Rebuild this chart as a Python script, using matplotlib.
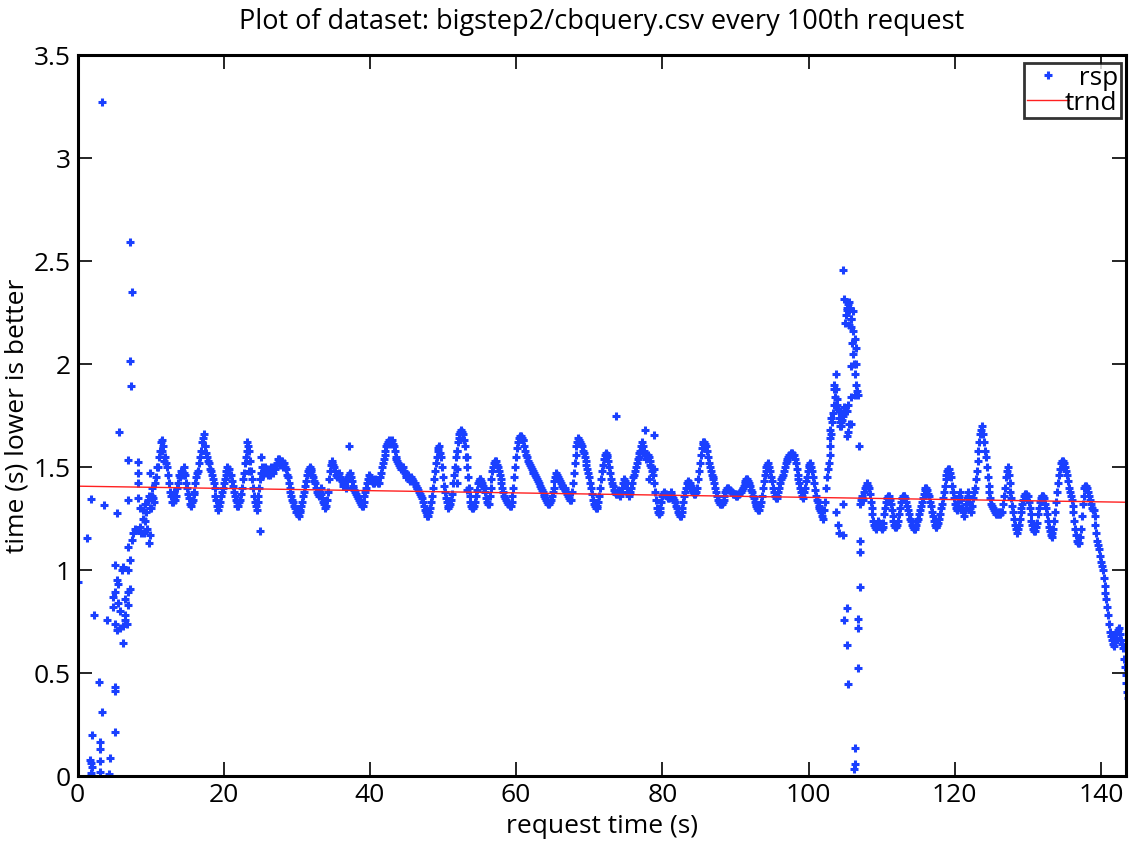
import numpy as np
import matplotlib
matplotlib.use("Agg")
import matplotlib.pyplot as plt

# ---------------- data ----------------
title = "Plot of dataset: bigstep2/cbquery.csv every 100th request"
xlabel = "request time (s)"
ylabel = "time (s) lower is better"

# main band of responses, one value every 0.25 s starting at t = 9 s
band_start = 9.0
band_step = 0.25
rsp_band = [
    1.25, 1.32, 1.20, 1.36,  # 9
    1.30, 1.40, 1.33, 1.45,  # 10
    1.50, 1.58, 1.63, 1.60,  # 11
    1.55, 1.50, 1.42, 1.36,  # 12
    1.33, 1.38, 1.36, 1.42,  # 13
    1.45, 1.48, 1.50, 1.46,  # 14
    1.40, 1.35, 1.31, 1.34,  # 15
    1.38, 1.45, 1.48, 1.55,  # 16
    1.62, 1.66, 1.60, 1.55,  # 17
    1.52, 1.48, 1.44, 1.40,  # 18
    1.34, 1.29, 1.33, 1.38,  # 19
    1.42, 1.46, 1.50, 1.49,  # 20
    1.46, 1.41, 1.36, 1.33,  # 21
    1.31, 1.34, 1.40, 1.47,  # 22
    1.55, 1.62, 1.58, 1.48,  # 23
    1.40, 1.33, 1.29, 1.36,  # 24
    1.44, 1.50, 1.47, 1.49,  # 25
    1.46, 1.48, 1.50, 1.47,  # 26
    1.49, 1.52, 1.54, 1.51,  # 27
    1.53, 1.52, 1.49, 1.45,  # 28
    1.40, 1.36, 1.33, 1.30,  # 29
    1.28, 1.26, 1.29, 1.33,  # 30
    1.38, 1.43, 1.48, 1.50,  # 31
    1.48, 1.45, 1.42, 1.38,  # 32
    1.36, 1.40, 1.35, 1.32,  # 33
    1.31, 1.38, 1.48, 1.53,  # 34
    1.51, 1.48, 1.45, 1.47,  # 35
    1.44, 1.41, 1.43, 1.40,  # 36
    1.45, 1.47, 1.43, 1.40,  # 37
    1.38, 1.36, 1.34, 1.32,  # 38
    1.31, 1.36, 1.40, 1.44,  # 39
    1.45, 1.43, 1.42, 1.44,  # 40
    1.43, 1.42, 1.47, 1.52,  # 41
    1.56, 1.60, 1.62, 1.61,  # 42
    1.63, 1.60, 1.55, 1.53,  # 43
    1.51, 1.49, 1.50, 1.47,  # 44
    1.45, 1.46, 1.43, 1.44,  # 45
    1.42, 1.41, 1.40, 1.38,  # 46
    1.36, 1.33, 1.29, 1.27,  # 47
    1.26, 1.30, 1.36, 1.44,  # 48
    1.52, 1.58, 1.60, 1.55,  # 49
    1.45, 1.38, 1.33, 1.30,  # 50
    1.32, 1.37, 1.46, 1.55,  # 51
    1.62, 1.66, 1.68, 1.66,  # 52
    1.60, 1.50, 1.40, 1.33,  # 53
    1.30, 1.31, 1.36, 1.42,  # 54
    1.44, 1.43, 1.41, 1.38,  # 55
    1.33, 1.32, 1.40, 1.48,  # 56
    1.52, 1.53, 1.50, 1.46,  # 57
    1.42, 1.38, 1.35, 1.33,  # 58
    1.32, 1.31, 1.36, 1.45,  # 59
    1.55, 1.62, 1.65, 1.64,  # 60
    1.63, 1.58, 1.55, 1.52,  # 61
    1.50, 1.48, 1.47, 1.45,  # 62
    1.43, 1.41, 1.39, 1.37,  # 63
    1.35, 1.33, 1.32, 1.34,  # 64
    1.38, 1.43, 1.47, 1.45,  # 65
    1.43, 1.41, 1.40, 1.39,  # 66
    1.37, 1.35, 1.34, 1.42,  # 67
    1.52, 1.60, 1.64, 1.62,  # 68
    1.60, 1.57, 1.53, 1.49,  # 69
    1.45, 1.40, 1.34, 1.31,  # 70
    1.30, 1.33, 1.40, 1.48,  # 71
    1.54, 1.57, 1.55, 1.50,  # 72
    1.44, 1.41, 1.38, 1.37,  # 73
    1.39, 1.36, 1.40, 1.44,  # 74
    1.42, 1.38, 1.36, 1.40,  # 75
    1.45, 1.48, 1.52, 1.55,  # 76
    1.58, 1.62, 1.58, 1.54,  # 77
    1.56, 1.53, 1.50, 1.46,  # 78
    1.38, 1.30, 1.27, 1.30,  # 79
    1.36, 1.38, 1.37, 1.35,  # 80
    1.36, 1.38, 1.35, 1.33,  # 81
    1.30, 1.27, 1.26, 1.30,  # 82
    1.36, 1.40, 1.43, 1.42,  # 83
    1.40, 1.38, 1.37, 1.40,  # 84
    1.48, 1.56, 1.61, 1.62,  # 85
    1.60, 1.55, 1.50, 1.46,  # 86
    1.44, 1.40, 1.36, 1.33,  # 87
    1.32, 1.33, 1.36, 1.39,  # 88
    1.40, 1.39, 1.38, 1.37,  # 89
    1.37, 1.36, 1.37, 1.38,  # 90
    1.40, 1.42, 1.44, 1.43,  # 91
    1.41, 1.38, 1.35, 1.32,  # 92
    1.30, 1.29, 1.33, 1.40,  # 93
    1.46, 1.50, 1.52, 1.48,  # 94
    1.43, 1.38, 1.35, 1.36,  # 95
    1.40, 1.44, 1.46, 1.50,  # 96
    1.53, 1.55, 1.56, 1.57,  # 97
    1.56, 1.52, 1.46, 1.42,  # 98
    1.38, 1.35, 1.40, 1.45,  # 99
    1.50, 1.52, 1.48, 1.42,  # 100
    1.36, 1.33, 1.30, 1.28,  # 101
    1.25, 1.33, 1.45, 1.52,  # 102
    1.60, 1.72, 1.80, 1.88,  # 103
    1.78, 1.72, 1.70, 1.76,  # 104
    2.20, 2.26, 2.30, 2.22,  # 105
    2.10, 2.00, 1.90, 1.85,  # 106
    1.32, 1.36, 1.34, 1.40,  # 107
    1.42, 1.40, 1.33, 1.27,  # 108
    1.22, 1.20, 1.24, 1.22,  # 109
    1.20, 1.23, 1.30, 1.35,  # 110
    1.36, 1.32, 1.26, 1.22,  # 111
    1.21, 1.24, 1.30, 1.35,  # 112
    1.36, 1.35, 1.31, 1.27,  # 113
    1.24, 1.21, 1.20, 1.22,  # 114
    1.25, 1.29, 1.33, 1.37,  # 115
    1.40, 1.39, 1.36, 1.31,  # 116
    1.26, 1.22, 1.21, 1.23,  # 117
    1.27, 1.32, 1.38, 1.44,  # 118
    1.48, 1.49, 1.45, 1.38,  # 119
    1.32, 1.29, 1.33, 1.38,  # 120
    1.30, 1.26, 1.32, 1.38,  # 121
    1.33, 1.28, 1.35, 1.40,  # 122
    1.48, 1.58, 1.66, 1.70,  # 123
    1.62, 1.55, 1.45, 1.38,  # 124
    1.32, 1.30, 1.28, 1.27,  # 125
    1.28, 1.27, 1.28, 1.36,  # 126
    1.45, 1.50, 1.42, 1.35,  # 127
    1.28, 1.22, 1.18, 1.22,  # 128
    1.28, 1.32, 1.36, 1.37,  # 129
    1.36, 1.30, 1.24, 1.20,  # 130
    1.19, 1.23, 1.30, 1.35,  # 131
    1.36, 1.35, 1.30, 1.24,  # 132
    1.19, 1.16, 1.20, 1.28,  # 133
    1.38, 1.46, 1.52, 1.53,  # 134
    1.52, 1.48, 1.43, 1.38,  # 135
    1.34, 1.28, 1.20, 1.14,  # 136
    1.13, 1.20, 1.32, 1.40,  # 137
    1.41, 1.38, 1.34, 1.30,  # 138
    1.29, 1.22, 1.14, 1.10,  # 139
    1.04, 1.00, 0.92, 0.86,  # 140
    0.78, 0.70, 0.66, 0.63,  # 141
    0.67, 0.70, 0.72, 0.66,  # 142
    0.62, 0.53, 0.45, 0.38,  # 143
]

# second set of responses in the same band, read between the first ones
band2_start = 9.125
rsp_band2 = [
    1.18, 1.28, 1.34, 1.30,  # 9
    1.36, 1.35, 1.42, 1.50,  # 10
    1.55, 1.62, 1.58, 1.53,  # 11
    1.52, 1.46, 1.38, 1.33,  # 12
    1.36, 1.34, 1.40, 1.46,  # 13
    1.48, 1.46, 1.47, 1.42,  # 14
    1.37, 1.32, 1.33, 1.37,  # 15
    1.42, 1.47, 1.52, 1.58,  # 16
    1.64, 1.60, 1.57, 1.53,  # 17
    1.49, 1.46, 1.42, 1.36,  # 18
    1.31, 1.31, 1.36, 1.40,  # 19
    1.44, 1.48, 1.47, 1.46,  # 20
    1.43, 1.38, 1.34, 1.31,  # 21
    1.33, 1.37, 1.44, 1.52,  # 22
    1.58, 1.60, 1.53, 1.44,  # 23
    1.36, 1.31, 1.33, 1.40,  # 24
    1.47, 1.46, 1.50, 1.47,  # 25
    1.49, 1.46, 1.48, 1.50,  # 26
    1.51, 1.54, 1.52, 1.53,  # 27
    1.50, 1.50, 1.46, 1.42,  # 28
    1.38, 1.34, 1.31, 1.28,  # 29
    1.27, 1.28, 1.31, 1.36,  # 30
    1.41, 1.46, 1.49, 1.49,  # 31
    1.46, 1.43, 1.40, 1.37,  # 32
    1.38, 1.37, 1.33, 1.30,  # 33
    1.34, 1.44, 1.51, 1.52,  # 34
    1.50, 1.46, 1.46, 1.45,  # 35
    1.43, 1.42, 1.41, 1.43,  # 36
    1.46, 1.45, 1.41, 1.39,  # 37
    1.37, 1.35, 1.33, 1.31,  # 38
    1.33, 1.38, 1.42, 1.46,  # 39
    1.44, 1.42, 1.43, 1.43,  # 40
    1.42, 1.45, 1.50, 1.54,  # 41
    1.58, 1.61, 1.63, 1.62,  # 42
    1.61, 1.58, 1.54, 1.52,  # 43
    1.50, 1.50, 1.48, 1.46,  # 44
    1.46, 1.44, 1.45, 1.43,  # 45
    1.42, 1.40, 1.39, 1.37,  # 46
    1.35, 1.31, 1.28, 1.26,  # 47
    1.28, 1.33, 1.40, 1.48,  # 48
    1.55, 1.59, 1.57, 1.50,  # 49
    1.41, 1.35, 1.31, 1.31,  # 50
    1.34, 1.42, 1.50, 1.58,  # 51
    1.64, 1.67, 1.67, 1.63,  # 52
    1.55, 1.45, 1.36, 1.31,  # 53
    1.30, 1.33, 1.39, 1.43,  # 54
    1.44, 1.42, 1.40, 1.35,  # 55
    1.32, 1.36, 1.44, 1.50,  # 56
    1.53, 1.51, 1.48, 1.44,  # 57
    1.40, 1.36, 1.34, 1.32,  # 58
    1.31, 1.33, 1.40, 1.50,  # 59
    1.59, 1.64, 1.65, 1.63,  # 60
    1.60, 1.56, 1.53, 1.51,  # 61
    1.49, 1.47, 1.46, 1.44,  # 62
    1.42, 1.40, 1.38, 1.36,  # 63
    1.34, 1.32, 1.33, 1.36,  # 64
    1.40, 1.45, 1.46, 1.44,  # 65
    1.42, 1.40, 1.40, 1.38,  # 66
    1.36, 1.34, 1.38, 1.47,  # 67
    1.56, 1.62, 1.63, 1.61,  # 68
    1.58, 1.55, 1.51, 1.47,  # 69
    1.42, 1.37, 1.32, 1.30,  # 70
    1.31, 1.36, 1.44, 1.51,  # 71
    1.56, 1.56, 1.53, 1.47,  # 72
    1.42, 1.39, 1.37, 1.38,  # 73
    1.37, 1.38, 1.42, 1.43,  # 74
    1.40, 1.37, 1.38, 1.42,  # 75
    1.46, 1.50, 1.54, 1.57,  # 76
    1.60, 1.60, 1.56, 1.55,  # 77
    1.55, 1.51, 1.48, 1.42,  # 78
    1.34, 1.28, 1.28, 1.33,  # 79
    1.37, 1.37, 1.36, 1.35,  # 80
    1.37, 1.36, 1.34, 1.31,  # 81
    1.28, 1.26, 1.28, 1.33,  # 82
    1.38, 1.42, 1.42, 1.41,  # 83
    1.39, 1.37, 1.38, 1.44,  # 84
    1.52, 1.59, 1.62, 1.61,  # 85
    1.58, 1.52, 1.48, 1.45,  # 86
    1.42, 1.38, 1.34, 1.32,  # 87
    1.32, 1.34, 1.38, 1.40,  # 88
    1.39, 1.38, 1.37, 1.37,  # 89
    1.36, 1.37, 1.38, 1.39,  # 90
    1.41, 1.43, 1.44, 1.42,  # 91
    1.39, 1.36, 1.33, 1.31,  # 92
    1.29, 1.31, 1.36, 1.43,  # 93
    1.48, 1.51, 1.50, 1.45,  # 94
    1.40, 1.36, 1.35, 1.38,  # 95
    1.42, 1.45, 1.48, 1.52,  # 96
    1.54, 1.56, 1.57, 1.56,  # 97
    1.54, 1.49, 1.44, 1.40,  # 98
    1.36, 1.38, 1.43, 1.48,  # 99
    1.51, 1.50, 1.45, 1.39,  # 100
    1.34, 1.31, 1.29, 1.26,  # 101
    1.29, 1.40, 1.49, 1.56,  # 102
    1.66, 1.76, 1.84, 1.83,  # 103
    1.74, 1.70, 1.73, 1.79,  # 104
    2.24, 2.29, 2.27, 2.18,  # 105
    2.05, 1.95, 1.87, 1.60,  # 106
    1.34, 1.35, 1.38, 1.41,  # 107
    1.41, 1.37, 1.30, 1.24,  # 108
    1.21, 1.22, 1.23, 1.21,  # 109
    1.21, 1.27, 1.33, 1.36,  # 110
    1.34, 1.29, 1.24, 1.21,  # 111
    1.22, 1.27, 1.33, 1.36,  # 112
    1.36, 1.33, 1.29, 1.25,  # 113
    1.22, 1.20, 1.21, 1.24,  # 114
    1.27, 1.31, 1.35, 1.39,  # 115
    1.40, 1.37, 1.33, 1.28,  # 116
    1.24, 1.21, 1.22, 1.25,  # 117
    1.30, 1.35, 1.41, 1.46,  # 118
    1.49, 1.47, 1.41, 1.35,  # 119
    1.30, 1.31, 1.36, 1.34,  # 120
    1.28, 1.29, 1.35, 1.36,  # 121
    1.30, 1.31, 1.38, 1.44,  # 122
    1.53, 1.62, 1.68, 1.66,  # 123
    1.58, 1.50, 1.41, 1.35,  # 124
    1.31, 1.29, 1.27, 1.28,  # 125
    1.27, 1.28, 1.32, 1.40,  # 126
    1.48, 1.46, 1.38, 1.31,  # 127
    1.25, 1.20, 1.20, 1.25,  # 128
    1.30, 1.34, 1.37, 1.36,  # 129
    1.33, 1.27, 1.22, 1.19,  # 130
    1.21, 1.27, 1.33, 1.36,  # 131
    1.36, 1.32, 1.27, 1.21,  # 132
    1.17, 1.18, 1.24, 1.33,  # 133
    1.42, 1.49, 1.53, 1.52,  # 134
    1.50, 1.46, 1.40, 1.36,  # 135
    1.31, 1.24, 1.17, 1.13,  # 136
    1.16, 1.26, 1.36, 1.41,  # 137
    1.40, 1.36, 1.32, 1.29,  # 138
    1.26, 1.18, 1.12, 1.07,  # 139
    1.02, 0.96, 0.89, 0.82,  # 140
    0.74, 0.68, 0.64, 0.65,  # 141
    0.69, 0.71, 0.69, 0.64,  # 142
    0.57, 0.49, 0.41, 0.36,  # 143
]

# scattered responses (start-up, outliers and the spike near 105 s)
rsp_extra_t = [
    0.12, 1.25, 1.80, 3.62, 5.34, 2.25, 3.98, 2.98, 3.39, 1.98,
    3.07, 3.07, 5.12, 5.12, 5.12, 4.43, 1.71, 1.80, 1.98, 3.07,
    1.80, 3.07, 4.30, 3.30, 7.12, 7.39, 7.21, 7.30, 5.66, 6.93,
    8.30, 8.30, 8.30, 9.90, 6.93, 9.75,
    5.12, 5.34, 5.12, 5.60, 6.93, 7.16, 4.89, 5.57, 6.48, 6.93,
    4.89, 5.80, 6.48, 5.12, 6.48, 6.25, 5.34, 5.80, 6.71, 6.16,
    6.02, 6.25, 6.93, 7.16, 6.93, 7.39, 7.62, 8.07, 8.50, 8.75,
    9.20, 9.00, 8.30, 9.90, 8.60, 7.80,
    25.0, 23.5, 25.1, 37.2, 51.9, 51.9, 51.9, 53.3, 53.3, 73.6,
    77.6, 78.8, 78.8, 78.2,
    104.7, 104.9, 105.2, 105.6, 106.1, 105.8, 105.6, 106.1, 106.3, 106.5,
    105.8, 106.5, 106.3, 105.8, 103.7, 103.5, 103.5, 103.9, 103.1, 102.9,
    102.9, 104.2, 104.5, 104.7, 105.2, 105.4, 105.6, 105.4, 105.2, 105.8,
    103.8, 104.0, 104.2, 104.7, 104.7, 105.2, 104.9, 105.25, 105.4, 106.75,
    107.1, 107.1, 107.0, 106.75, 106.8, 106.4, 106.3, 106.2,
]
rsp_extra_y = [
    0.943, 1.153, 1.343, 1.318, 1.278, 0.781, 0.757, 0.458, 0.310, 0.199,
    0.166, 0.129, 0.433, 0.412, 0.212, 0.086, 0.077, 0.061, 0.045, 0.073,
    0.016, 0.018, 0.010, 3.27, 2.59, 2.35, 2.016, 1.895, 1.668, 1.534,
    1.526, 1.469, 1.42, 1.469, 1.34, 1.13,
    1.024, 0.951, 0.895, 0.93, 0.895, 0.91, 0.87, 0.84, 0.86, 0.83,
    0.82, 0.80, 0.78, 0.74, 0.757, 0.73, 0.708, 0.72, 0.74, 0.644,
    1.00, 1.016, 1.00, 1.048, 1.113, 1.146, 1.178, 1.194, 1.21, 1.18,
    1.24, 1.29, 1.35, 1.17, 1.30, 1.20,
    1.19, 1.48, 1.55, 1.60, 1.58, 1.49, 1.42, 1.55, 1.39, 1.747,
    1.68, 1.655, 1.49, 1.44,
    2.456, 2.314, 2.27, 2.26, 2.255, 2.22, 2.19, 2.16, 2.12, 2.08,
    1.99, 2.00, 1.85, 1.84, 1.95, 1.90, 1.88, 1.80, 1.74, 1.68,
    1.64, 1.77, 1.72, 1.75, 1.77, 1.80, 1.71, 1.67, 1.65, 1.71,
    1.28, 1.22, 1.18, 1.17, 1.32, 0.815, 0.756, 0.637, 0.449, 0.526,
    1.139, 1.088, 0.917, 0.764, 0.72, 0.134, 0.057, 0.035,
]

# linear trend (end values)
trnd_t = [0.0, 143.5]
trnd_y = [1.407, 1.329]

xlim = (0, 143.5)
ylim = (0, 3.5)
xticks = [0, 20, 40, 60, 80, 100, 120, 140]
yticks = [0, 0.5, 1, 1.5, 2, 2.5, 3, 3.5]
ytick_labels = ["0", "0.5", "1", "1.5", "2", "2.5", "3", "3.5"]
legend_labels = ["  rsp", "trnd"]

# ---------------- drawing ----------------
plt.rcParams['font.family'] = ['Open Sans', 'DejaVu Sans']

fig = plt.figure(figsize=(11.3, 8.48), dpi=100)
ax = fig.add_axes([0.0686, 0.0849, 0.9283, 0.8502])

band_t = band_start + band_step * np.arange(len(rsp_band))
band2_t = band2_start + band_step * np.arange(len(rsp_band2))
t_all = np.concatenate([np.asarray(rsp_extra_t), band_t, band2_t])
y_all = np.concatenate([np.asarray(rsp_extra_y), np.asarray(rsp_band),
                        np.asarray(rsp_band2)])

blue = '#1a40ff'
ax.plot(t_all, y_all, linestyle='none', marker='+', markersize=6,
        markeredgewidth=2.2, color=blue, label=legend_labels[0])
ax.plot(trnd_t, trnd_y, color='#ff2020', linewidth=1.0,
        label=legend_labels[1])

ax.set_xlim(*xlim)
ax.set_ylim(*ylim)
ax.set_xticks(xticks)
ax.set_yticks(yticks)
ax.set_yticklabels(ytick_labels)
ax.tick_params(direction='in', length=10, width=1.2, top=True, right=True,
               labelsize=19, pad=5)
for s in ax.spines.values():
    s.set_linewidth(2.2)

ax.set_title(title, fontsize=19.5, pad=19)
ax.set_xlabel(xlabel, fontsize=19, labelpad=4)
ax.set_ylabel(ylabel, fontsize=19, labelpad=3)

leg = ax.legend(loc='upper right', bbox_to_anchor=(1 - 5.5 / 1049, 1 - 8 / 721),
                borderaxespad=0.0, fontsize=19, frameon=True, fancybox=False,
                numpoints=1, handlelength=1.6, handletextpad=-0.15,
                borderpad=0.1, labelspacing=0.0)
leg.get_frame().set_edgecolor('black')
leg.get_frame().set_linewidth(2.0)

fig.savefig('out.png', dpi=100)
